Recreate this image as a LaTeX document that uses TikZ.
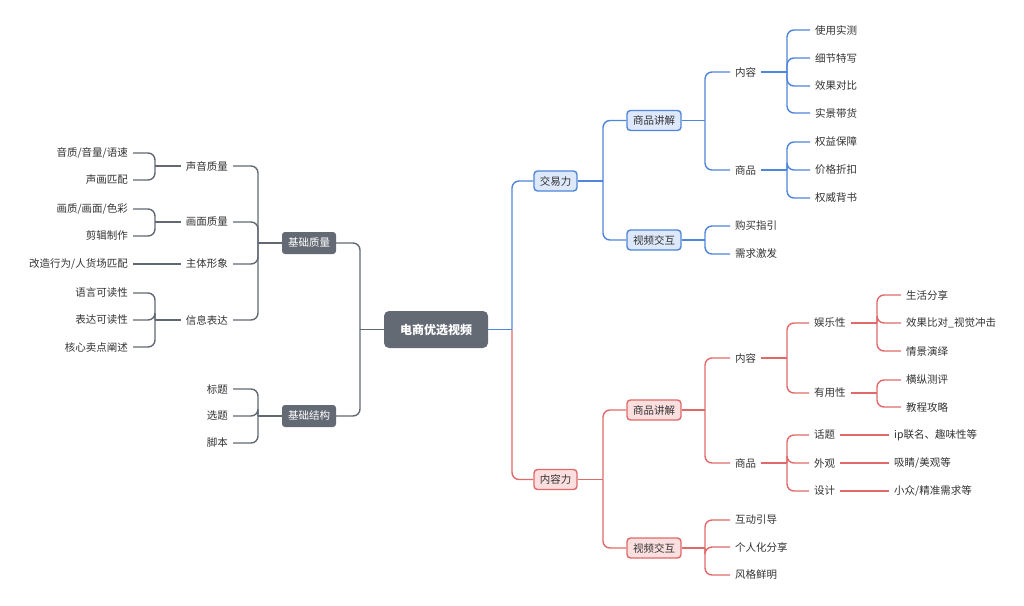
\documentclass[tikz,border=0pt]{standalone}
\usepackage{fontspec}
\setmainfont{Noto Sans CJK SC}
\usetikzlibrary{calc}
\definecolor{gl}{HTML}{626873}
\definecolor{boxg}{HTML}{646A74}
\definecolor{bl}{HTML}{4F86D9}
\definecolor{blf}{HTML}{DDE8FA}
\definecolor{rd}{HTML}{E06A6A}
\definecolor{rdf}{HTML}{FBDEDE}
\definecolor{txtc}{HTML}{333333}
\newcommand\rbr[4]{%
  \path let \p1=(#2.east) in coordinate (#2-j) at (#3pt,\y1);
  \draw[#1] (#2.east) -- (#2-j);
  \foreach \c in {#4} \draw[#1,rounded corners=7pt] (#2-j) |- (\c.west);
}
\newcommand\lbr[4]{%
  \path let \p1=(#2.west) in coordinate (#2-j) at (#3pt,\y1);
  \draw[#1] (#2.west) -- (#2-j);
  \foreach \c in {#4} \draw[#1,rounded corners=7pt] (#2-j) |- (\c.east);
}
\tikzset{
  txt/.style={inner xsep=5pt, inner ysep=2pt, font=\fontsize{10.5}{12}\selectfont, text=txtc},
  rt/.style={txt, anchor=west},
  lt/.style={txt, anchor=east},
  rootbox/.style={fill=boxg, rounded corners=5pt, text=white, font=\fontsize{12}{14}\selectfont\bfseries, minimum width=104pt, minimum height=37pt, inner sep=0pt},
  gbox/.style={fill=boxg, rounded corners=3pt, text=white, font=\fontsize{10.5}{12}\selectfont, minimum width=54pt, minimum height=22pt, inner sep=0pt},
  bbox/.style={draw=bl, fill=blf, line width=1.4pt, rounded corners=3.5pt, minimum height=20pt, inner sep=0pt, font=\fontsize{10.5}{12}\selectfont, text=txtc},
  rbox/.style={draw=rd, fill=rdf, line width=1.4pt, rounded corners=3.5pt, minimum height=20pt, inner sep=0pt, font=\fontsize{10.5}{12}\selectfont, text=txtc},
  gln/.style={draw=gl, line width=1.4pt},
  bln/.style={draw=bl, line width=1.4pt},
  rln/.style={draw=rd, line width=1.4pt},
}
\begin{document}
\begin{tikzpicture}[x=1pt,y=-1pt]
\useasboundingbox[fill=white] (0,0) rectangle (1024,605);
% root
\node[rootbox] (root) at (436,329.5) {电商优选视频};
% ---------- left ----------
\node[gbox] (jz) at (309,243) {基础质量};
\node[gbox] (jg) at (309,416) {基础结构};
\node[lt] (sy) at (233,166) {声音质量};
\node[lt] (hm) at (233,222) {画面质量};
\node[lt] (zt) at (233,264) {主体形象};
\node[lt] (xx) at (233,320) {信息表达};
\node[lt] (l1) at (133,153) {音质/音量/语速};
\node[lt] (l2) at (133,180) {声画匹配};
\node[lt] (l3) at (133,209) {画质/画面/色彩};
\node[lt] (l4) at (133,236) {剪辑制作};
\node[lt] (l5) at (133,264) {改造行为/人货场匹配};
\node[lt] (l6) at (133,293) {语言可读性};
\node[lt] (l7) at (133,320) {表达可读性};
\node[lt] (l8) at (133,347) {核心卖点阐述};
\node[lt] (s1) at (233,389) {标题};
\node[lt] (s2) at (233,416) {选题};
\node[lt] (s3) at (233,443) {脚本};
\lbr{gln}{root}{360}{jz,jg}
\lbr{gln}{jz}{258}{sy,hm,zt,xx}
\lbr{gln}{jg}{258}{s1,s2,s3}
\lbr{gln}{sy}{155}{l1,l2}
\lbr{gln}{hm}{155}{l3,l4}
\draw[gln] (zt.west) -- (l5.east);
\lbr{gln}{xx}{155}{l6,l7,l8}
% ---------- right: trade ----------
\node[bbox, minimum width=43pt] (jy) at (555.5,181) {交易力};
\node[rbox, minimum width=43pt] (nr) at (555.5,479.5) {内容力};
\path let \p1=(root.east) in coordinate (root-j) at (512pt,\y1);
\draw[bln] (root.east) -- (root-j);
\draw[bln,rounded corners=7pt] (root-j) |- (jy.west);
\draw[rln,rounded corners=7pt] (root-j) |- (nr.west);

\node[bbox, minimum width=54pt] (tsp) at (654,120.5) {商品讲解};
\node[bbox, minimum width=54pt] (tsj) at (654,240) {视频交互};
\node[rt] (tnr) at (730,72) {内容};
\node[rt] (tsq) at (730,170) {商品};
\node[rt] (t1) at (810,30) {使用实测};
\node[rt] (t2) at (810,58) {细节特写};
\node[rt] (t3) at (810,86) {效果对比};
\node[rt] (t4) at (810,113) {实景带货};
\node[rt] (t5) at (810,142) {权益保障};
\node[rt] (t6) at (810,170) {价格折扣};
\node[rt] (t7) at (810,198) {权威背书};
\node[rt] (t8) at (730,226) {购买指引};
\node[rt] (t9) at (730,254) {需求激发};
\rbr{bln}{jy}{603}{tsp,tsj}
\rbr{bln}{tsp}{705}{tnr,tsq}
\rbr{bln}{tnr}{787}{t1,t2,t3,t4}
\rbr{bln}{tsq}{787}{t5,t6,t7}
\rbr{bln}{tsj}{705}{t8,t9}
% ---------- right: content ----------
\node[rbox, minimum width=54pt] (csp) at (654,410) {商品讲解};
\node[rbox, minimum width=54pt] (csj) at (654,548) {视频交互};
\node[rt] (cnr) at (730,358) {内容};
\node[rt] (csq) at (730,463) {商品};
\node[rt] (yl) at (809,323) {娱乐性};
\node[rt] (yy) at (809,393) {有用性};
\node[rt] (c1) at (901,295) {生活分享};
\node[rt] (c2) at (901,323) {效果比对\_视觉冲击};
\node[rt] (c3) at (901,351) {情景演绎};
\node[rt] (c4) at (901,380) {横纵测评};
\node[rt] (c5) at (901,407) {教程攻略};
\node[rt] (ht) at (809,435) {话题};
\node[rt] (wg) at (809,463) {外观};
\node[rt] (sj) at (809,491) {设计};
\node[rt] (d1) at (889,435) {ip联名、趣味性等};
\node[rt] (d2) at (889,463) {吸睛/美观等};
\node[rt] (d3) at (889,491) {小众/精准需求等};
\node[rt] (e1) at (730,520) {互动引导};
\node[rt] (e2) at (730,547) {个人化分享};
\node[rt] (e3) at (730,575) {风格鲜明};
\rbr{rln}{nr}{603}{csp,csj}
\rbr{rln}{csp}{705}{cnr,csq}
\rbr{rln}{cnr}{787}{yl,yy}
\rbr{rln}{yl}{877}{c1,c2,c3}
\rbr{rln}{yy}{877}{c4,c5}
\rbr{rln}{csq}{787}{ht,wg,sj}
\draw[rln] (ht.east) -- (d1.west);
\draw[rln] (wg.east) -- (d2.west);
\draw[rln] (sj.east) -- (d3.west);
\rbr{rln}{csj}{705}{e1,e2,e3}
\end{tikzpicture}
\end{document}
